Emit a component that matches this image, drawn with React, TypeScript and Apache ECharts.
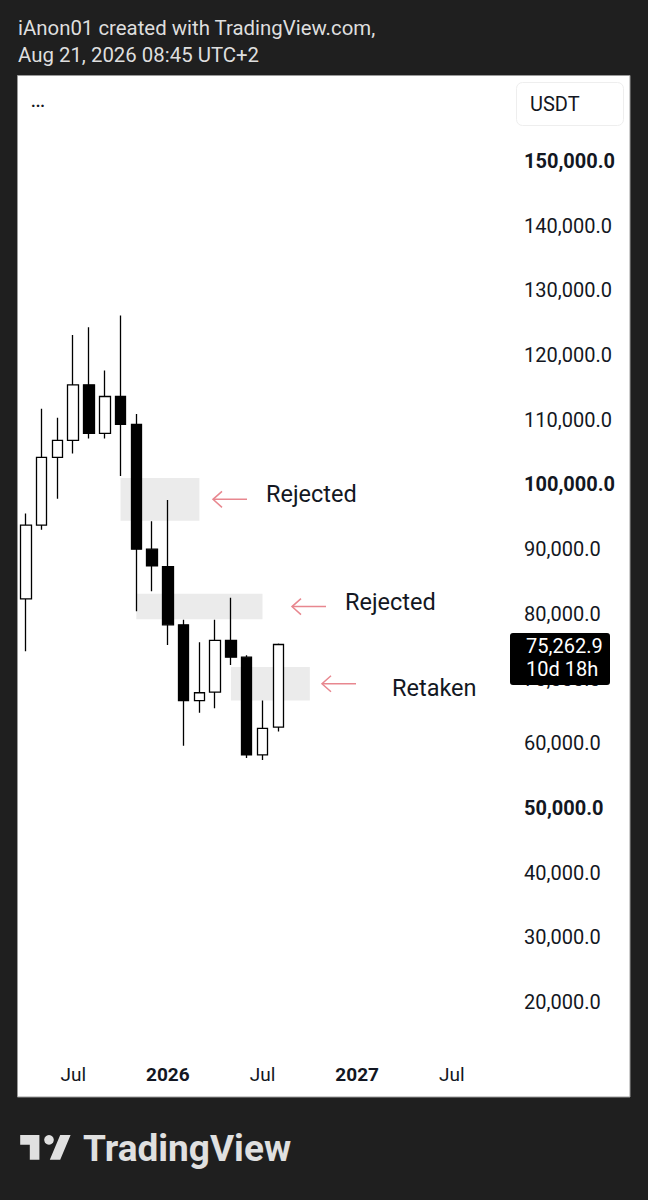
import React, { useEffect, useRef } from "react";
import * as echarts from "echarts";

// ---- data ----
const months = [
  "2025-04", "2025-05", "2025-06", "2025-07", "2025-08", "2025-09", "2025-10", "2025-11", "2025-12",
  "2026-01", "2026-02", "2026-03", "2026-04", "2026-05", "2026-06", "2026-07", "2026-08", "2026-09",
  "2026-10", "2026-11", "2026-12", "2027-01", "2027-02", "2027-03", "2027-04", "2027-05", "2027-06",
  "2027-07", "2027-08", "2027-09", "2027-10",
];
const opens = [82300, 93700, 104200, 106800, 115400, 107900, 113600, 109300, 90000, 87300, 78300, 66600, 67900, 75900, 73300, 58200, 62500];
const closes = [93700, 104200, 106800, 115400, 107900, 113600, 109300, 90000, 87400, 78300, 66600, 67800, 75900, 73300, 58200, 62300, 75262.9];
const lows = [74200, 93000, 97800, 104800, 107100, 107100, 101300, 80400, 83500, 75200, 59600, 64700, 65400, 72100, 57700, 57400, 61800];
const highs = [95500, 111700, 110300, 123100, 124300, 117600, 126100, 110900, 94300, 97600, 79100, 75600, 79100, 82500, 73600, 66600, 75400];

const xTickMonths = ["2025-07", "2026-01", "2026-07", "2027-01", "2027-07"];
const xTickTexts = ["Jul", "2026", "Jul", "2027", "Jul"];
const xTickBold = [false, true, false, true, false];

const yMin = 10000;
const yMax = 160000;
const yStep = 10000;
const yBoldTicks = [50000, 100000, 150000];

const zoneStart = ["2025-10", "2025-11", "2026-05"];
const zoneEnd = ["2026-03", "2026-07", "2026-10"];
const zoneTop = [101000, 83100, 71800];
const zoneBottom = [94400, 79150, 66600];
const zoneLabels = ["Rejected", "Rejected", "Retaken"];

const lastPrice = 75262.9;
const countdown = "10d 18h";
const currency = "USDT";
const headerLines = ["iAnon01 created with TradingView.com,", "Aug 21, 2026 08:45 UTC+2"];
const brand = "TradingView";

echarts.graphic.registerShape(
  "tvlogo",
  (echarts.graphic as any).extendPath("M14 6H2v6h6v9h6V6Zm13 15h-6.5L27 6h6.5L27 21Z", {})
);

const FONT = "Roboto, 'Noto Sans', sans-serif";
const fmtPrice = (v: number) =>
  v.toLocaleString("en-US", { minimumFractionDigits: 1, maximumFractionDigits: 1 });

export default function App() {
  const ref = useRef<HTMLDivElement>(null);
  useEffect(() => {
    document.body.style.margin = "0";
    document.body.style.background = "#1f1f1f";
    if (!ref.current) return;
    const chart = echarts.init(ref.current, undefined, { renderer: "svg" });
    const candleData = opens.map((o, i) => [o, closes[i], lows[i], highs[i]]);
    chart.setOption({
      animation: false,
      backgroundColor: "#1f1f1f",
      textStyle: { fontFamily: FONT },
      grid: { left: 18, top: 96.3, width: 489, height: 970.4 },
      xAxis: {
        type: "category",
        data: months,
        boundaryGap: true,
        axisLine: { show: false },
        axisTick: { show: false },
        splitLine: { show: false },
        axisLabel: {
          interval: 0,
          margin: -2,
          formatter: (val: string) => {
            const i = xTickMonths.indexOf(val);
            if (i < 0) return "";
            return xTickBold[i] ? `{b|${xTickTexts[i]}}` : `{n|${xTickTexts[i]}}`;
          },
          rich: {
            b: { fontFamily: FONT, fontSize: 19, fontWeight: "bold", color: "#131722" },
            n: { fontFamily: FONT, fontSize: 19, color: "#131722" },
          },
        },
      },
      yAxis: {
        type: "value",
        position: "right",
        min: yMin,
        max: yMax,
        interval: yStep,
        scale: false,
        axisLine: { show: false },
        axisTick: { show: false },
        splitLine: { show: false },
        axisLabel: {
          margin: 17,
          formatter: (v: number) => {
            if (v < 20000 || v > 150000) return "";
            return yBoldTicks.includes(v) ? `{b|${fmtPrice(v)}}` : `{n|${fmtPrice(v)}}`;
          },
          rich: {
            b: { fontFamily: FONT, fontSize: 20, fontWeight: "bold", color: "#131722" },
            n: { fontFamily: FONT, fontSize: 20, color: "#131722" },
          },
        },
      },
      series: [
        {
          type: "candlestick",
          data: candleData,
          barWidth: 11,
          itemStyle: {
            color: "#ffffff",
            color0: "#000000",
            borderColor: "#000000",
            borderColor0: "#000000",
            borderWidth: 1.3,
          },
          markArea: {
            silent: true,
            itemStyle: { color: "#ebebeb", opacity: 1 },
            data: zoneStart.map((s, i) => [
              { xAxis: s, yAxis: zoneTop[i] },
              { xAxis: zoneEnd[i], yAxis: zoneBottom[i] },
            ]),
          },
        },
      ],
    });

    const py = (v: number) => chart.convertToPixel({ yAxisIndex: 0 }, v) as number;
    const yLast = py(lastPrice);
    const arrowHeadX = [213, 292, 322];
    const textX = [266, 345, 392];
    const textDy = [-5, -5, 4];
    const arrowColor = "#e8878f";

    const graphics: any[] = [
      { type: "rect", z: -10, shape: { x: 17.5, y: 75.5, width: 612.5, height: 1021.5 }, style: { fill: "#ffffff", stroke: "#9a9a9a", lineWidth: 1 } },
      { type: "text", z: 10, style: { x: 18, y: 28, text: headerLines[0], fill: "#dedede", font: `20.4px ${FONT}`, textVerticalAlign: "middle" } },
      { type: "text", z: 10, style: { x: 18, y: 55, text: headerLines[1], fill: "#dedede", font: `20.4px ${FONT}`, textVerticalAlign: "middle" } },
      { type: "text", z: 10, style: { x: 31, y: 101, text: "...", fill: "#131722", font: `bold 16px ${FONT}`, textVerticalAlign: "middle" } },
      { type: "rect", z: 10, shape: { x: 516.5, y: 82.5, width: 107, height: 43, r: 6 }, style: { fill: "#ffffff", stroke: "#eeeeee", lineWidth: 1 } },
      { type: "text", z: 11, style: { x: 530, y: 104, text: currency, fill: "#131722", font: `20px ${FONT}`, textVerticalAlign: "middle" } },
      { type: "rect", z: 20, shape: { x: 510, y: yLast - 11.5, width: 100, height: 52, r: 3 }, style: { fill: "#000000" } },
      { type: "text", z: 21, style: { x: 526, y: yLast + 2, text: fmtPrice(lastPrice), fill: "#ffffff", font: `20px ${FONT}`, textVerticalAlign: "middle" } },
      { type: "text", z: 21, style: { x: 526, y: yLast + 25, text: countdown, fill: "#ffffff", font: `20px ${FONT}`, textVerticalAlign: "middle" } },
      { type: "tvlogo", z: 10, x: 17, y: 1125, scaleX: 1.6, scaleY: 1.65, style: { fill: "#e0e0e0" } },
      { type: "circle", z: 10, shape: { cx: 17 + 20 * 1.6, cy: 1125 + 9 * 1.65, r: 3 * 1.6 }, style: { fill: "#e0e0e0" } },
      { type: "text", z: 10, style: { x: 83, y: 1148, text: brand, fill: "#e0e0e0", font: `bold 37px ${FONT}`, textVerticalAlign: "middle" } },
    ];

    zoneLabels.forEach((label, i) => {
      const ym = (py(zoneTop[i]) + py(zoneBottom[i])) / 2;
      const hx = arrowHeadX[i];
      graphics.push({
        type: "polyline", z: 10,
        shape: { points: [[hx, ym], [hx + 34, ym]] },
        style: { stroke: arrowColor, lineWidth: 1.5, fill: null },
      });
      graphics.push({
        type: "polyline", z: 10,
        shape: { points: [[hx + 9, ym - 8], [hx, ym], [hx + 9, ym + 8]] },
        style: { stroke: arrowColor, lineWidth: 1.5, fill: null },
      });
      graphics.push({
        type: "text", z: 10,
        style: { x: textX[i], y: ym + textDy[i], text: label, fill: "#131722", font: `23.5px ${FONT}`, textVerticalAlign: "middle" },
      });
    });

    chart.setOption({ graphic: graphics });

    return () => chart.dispose();
  }, []);
  return <div ref={ref} style={{ width: 648, height: 1200 }} />;
}
